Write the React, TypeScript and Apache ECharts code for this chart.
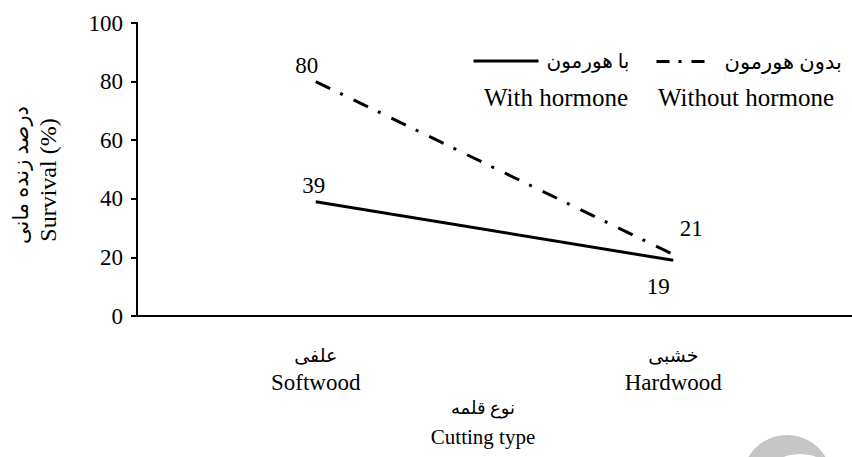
import React, { useEffect, useRef } from "react";
import * as echarts from "echarts";

const categoriesFa = ["علفی", "خشبی"];
const categoriesEn = ["Softwood", "Hardwood"];
const seriesNamesFa = ["با هورمون", "بدون هورمون"];
const seriesNamesEn = ["With hormone", "Without hormone"];
const withHormone = [39, 19];
const withoutHormone = [80, 21];
const yTitleFa = "درصد زنده مانی";
const yTitleEn = "Survival (%)";
const xTitleFa = "نوع قلمه";
const xTitleEn = "Cutting type";

const FONT = "'Liberation Serif', 'Times New Roman', 'DejaVu Sans', serif";
const FS = 23;
const FA = 19;

export default function App() {
  const ref = useRef<HTMLDivElement>(null);
  useEffect(() => {
    if (!ref.current) return;
    const chart = echarts.init(ref.current, null, { renderer: "svg" });
    const categories = categoriesFa.map((fa, i) => fa + "|" + categoriesEn[i]);
    const dashDot = [16, 11, 3, 12];
    const labelBase = { show: true, color: "#000", fontFamily: FONT, fontSize: FS };
    chart.setOption({
      animation: false,
      backgroundColor: "#ffffff",
      grid: { left: 137, right: -7, top: 23, bottom: 141, containLabel: false },
      xAxis: {
        type: "category",
        data: categories,
        boundaryGap: true,
        axisLine: { show: true, lineStyle: { color: "#000", width: 2 } },
        axisTick: { show: false },
        axisLabel: {
          color: "#000",
          fontFamily: FONT,
          margin: 26,
          formatter: (v: string) => {
            const [fa, en] = v.split("|");
            return `{fa|${fa}}\n{en|${en}}`;
          },
          rich: {
            fa: { fontFamily: FONT, fontSize: FA, lineHeight: 27, color: "#000" },
            en: { fontFamily: FONT, fontSize: 23, lineHeight: 27, color: "#000" },
          },
        },
      },
      yAxis: {
        type: "value",
        min: 0,
        max: 100,
        interval: 20,
        splitLine: { show: false },
        axisLine: { show: true, lineStyle: { color: "#000", width: 2 } },
        axisTick: { show: true, length: 6, lineStyle: { color: "#000", width: 2 } },
        axisLabel: { color: "#000", fontFamily: FONT, fontSize: 23, margin: 14 },
      },
      legend: [
        {
          data: [
            {
              name: seriesNamesFa[0],
              itemStyle: { opacity: 0 },
              lineStyle: { width: 3, color: "#000", type: "solid" },
            },
          ],
          left: 472,
          top: 51,
          padding: 0,
          itemWidth: 65,
          itemHeight: 14,
          lineStyle: { width: 3 },
          textStyle: { color: "#000", fontFamily: FONT, fontSize: 20, padding: [0, 0, 0, 3] },
        },
        {
          data: [
            {
              name: seriesNamesFa[1],
              itemStyle: { opacity: 0 },
              lineStyle: { type: [13, 9, 3, 10], width: 3, color: "#000" },
            },
          ],
          left: 655,
          top: 51,
          padding: 0,
          itemWidth: 48,
          itemHeight: 14,
          lineStyle: { width: 3 },
          textStyle: { color: "#000", fontFamily: FONT, fontSize: 21, padding: [0, 0, 0, 15] },
        },
      ],
      series: [
        {
          name: seriesNamesFa[0],
          type: "line",
          symbol: "circle",
          symbolSize: 0,
          showSymbol: true,
          data: withHormone.map((v, i) => ({
            value: v,
            label:
              i === 0
                ? { position: "top", offset: [-2, 0] }
                : { position: "bottom", offset: [-15, 10] },
          })),
          lineStyle: { color: "#000", width: 3, type: "solid" },
          itemStyle: { color: "#000" },
          label: labelBase,
        },
        {
          name: seriesNamesFa[1],
          type: "line",
          symbol: "circle",
          symbolSize: 0,
          showSymbol: true,
          data: withoutHormone.map((v, i) => ({
            value: v,
            label:
              i === 0
                ? { position: "top", offset: [-9, 0] }
                : { position: "top", offset: [18, -9] },
          })),
          lineStyle: { color: "#000", width: 3, type: dashDot },
          itemStyle: { color: "#000" },
          label: labelBase,
        },
      ],
      graphic: [
        {
          type: "text",
          x: 556,
          y: 97,
          style: { text: seriesNamesEn[0], fill: "#000", font: `25px ${FONT}`, align: "center", verticalAlign: "middle" },
        },
        {
          type: "text",
          x: 746,
          y: 97,
          style: { text: seriesNamesEn[1], fill: "#000", font: `25px ${FONT}`, align: "center", verticalAlign: "middle" },
        },
        {
          type: "text",
          x: 21,
          y: 175,
          rotation: Math.PI / 2,
          style: { text: yTitleFa, fill: "#000", font: `21px ${FONT}`, align: "center", verticalAlign: "middle" },
        },
        {
          type: "text",
          x: 48,
          y: 180,
          rotation: Math.PI / 2,
          style: { text: yTitleEn, fill: "#000", font: `24px ${FONT}`, align: "center", verticalAlign: "middle" },
        },
        {
          type: "text",
          x: 483,
          y: 408,
          style: { text: xTitleFa, fill: "#000", font: `18px ${FONT}`, align: "center", verticalAlign: "middle" },
        },
        {
          type: "text",
          x: 483,
          y: 437,
          style: { text: xTitleEn, fill: "#000", font: `21px ${FONT}`, align: "center", verticalAlign: "middle" },
        },
        {
          type: "circle",
          shape: { cx: 787, cy: 480, r: 45 },
          style: { fill: "#c6c6c6" },
          silent: true,
        },
        {
          type: "circle",
          shape: { cx: 800, cy: 500, r: 46 },
          style: { fill: "#ffffff" },
          silent: true,
        },
      ],
    });
    return () => chart.dispose();
  }, []);
  return (
    <div
      ref={ref}
      style={{ position: "fixed", left: 0, top: 0, width: 852, height: 457 }}
    />
  );
}
